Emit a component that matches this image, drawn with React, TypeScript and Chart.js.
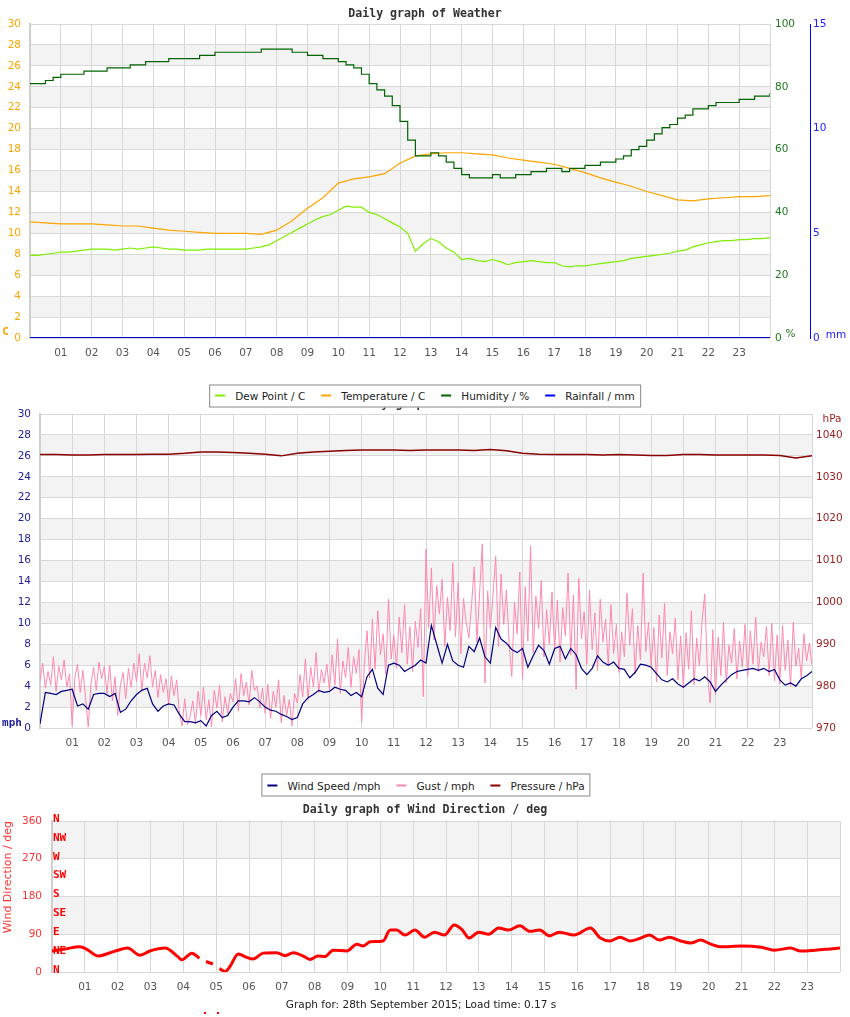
import React, { useEffect, useRef } from 'react';
import { Chart, registerables } from 'chart.js';

Chart.register(...registerables);
Chart.defaults.font.family = '"DejaVu Sans", sans-serif';
Chart.defaults.font.size = 10.5;

// ---------------- DATA ----------------
const hourTicks = ['01','02','03','04','05','06','07','08','09','10','11','12','13','14','15','16','17','18','19','20','21','22','23'];
const compassLabels = ['N','NE','E','SE','S','SW','W','NW','N'];

// Weather (15-minute samples unless noted)
const dewPoint15 = [
  7.9, 7.9, 8.0, 8.1, 8.2, 8.2, 8.3, 8.4, 8.5, 8.5, 8.5, 8.4,
  8.5, 8.6, 8.5, 8.6, 8.7, 8.6, 8.5, 8.5, 8.4, 8.4, 8.4, 8.5,
  8.5, 8.5, 8.5, 8.5, 8.5, 8.6, 8.7, 8.9, 9.3, 9.7, 10.1, 10.5,
  10.9, 11.3, 11.6, 11.8, 12.2, 12.6, 12.5, 12.5, 12.0, 11.8, 11.4, 11.0,
  10.6, 10.0, 8.3, 9.0, 9.5, 9.2, 8.6, 8.2, 7.5, 7.6, 7.4, 7.3,
  7.5, 7.3, 7.0, 7.2, 7.3, 7.4, 7.3, 7.2, 7.2, 6.9, 6.8, 6.9,
  6.9, 7.0, 7.1, 7.2, 7.3, 7.4, 7.6, 7.7, 7.8, 7.9, 8.0, 8.1,
  8.3, 8.4, 8.7, 8.9, 9.1, 9.2, 9.3, 9.3, 9.4, 9.4, 9.5, 9.5, 9.6
];
// half-hour samples
const temperature30 = [
  11.1, 11.0, 10.9, 10.9, 10.9, 10.8, 10.7, 10.7, 10.5, 10.3, 10.2, 10.1,
  10.0, 10.0, 10.0, 9.9, 10.3, 11.2, 12.4, 13.4, 14.8, 15.2, 15.4, 15.7,
  16.7, 17.4, 17.6, 17.7, 17.7, 17.6, 17.5, 17.2, 17.0, 16.8, 16.6, 16.2,
  15.8, 15.3, 14.9, 14.5, 14.0, 13.6, 13.2, 13.1, 13.3, 13.4, 13.5, 13.5, 13.6
];
const humidity15 = [
  81, 81, 82, 83, 84, 84, 84, 85, 85, 85, 86, 86,
  86, 87, 87, 88, 88, 88, 89, 89, 89, 89, 90, 90,
  91, 91, 91, 91, 91, 91, 92, 92, 92, 92, 91, 91,
  90, 90, 89, 89, 88, 87, 86, 84, 81, 79, 77, 74,
  69, 63, 58, 58, 59, 58, 56, 54, 52, 51, 51, 51,
  52, 51, 51, 52, 52, 53, 53, 54, 54, 53, 54, 54,
  55, 55, 56, 56, 57, 58, 60, 61, 63, 65, 67, 68,
  70, 71, 73, 73, 74, 75, 75, 75, 76, 76, 77, 77, 78
];
// hourly samples
const rainfallHourly = [0,0,0,0,0,0,0,0,0,0,0,0,0,0,0,0,0,0,0,0,0,0,0,0,0];

// Wind speed (10-minute samples)
const windSpeed10 = [
  0.4, 3.4, 3.3, 3.2, 3.5, 3.6,
  3.7, 2.1, 2.3, 1.8, 3.2, 3.3,
  3.3, 3.0, 3.3, 1.5, 1.8, 2.6,
  3.2, 3.6, 3.8, 2.3, 1.6, 2.1,
  2.3, 2.2, 1.3, 0.6, 0.6, 0.5,
  0.7, 0.2, 1.2, 1.6, 1.0, 1.2,
  2.0, 2.6, 2.6, 2.5, 2.9, 2.5,
  2.0, 1.7, 1.6, 1.3, 1.1, 0.8,
  1.0, 2.3, 2.9, 3.2, 3.6, 3.4,
  3.5, 3.9, 3.7, 3.6, 3.1, 3.4,
  3.0, 4.9, 5.6, 3.8, 3.2, 6.0,
  6.2, 6.0, 5.4, 5.7, 6.0, 6.5,
  6.2, 9.8, 8.0, 6.2, 8.0, 6.4,
  6.0, 5.8, 7.8, 7.3, 8.6, 6.8,
  6.2, 9.6, 8.5, 8.1, 7.5, 7.2,
  7.6, 5.8, 6.9, 7.9, 7.4, 6.1,
  7.6, 7.8, 6.6, 7.6, 7.0, 5.7,
  5.1, 5.7, 6.9, 6.3, 6.0, 6.3,
  5.7, 5.6, 4.8, 5.3, 6.1, 6.0,
  5.8, 5.2, 4.6, 4.4, 4.7, 4.2,
  3.9, 4.3, 4.7, 4.5, 4.9, 4.4,
  3.5, 4.1, 4.6, 5.1, 5.4, 5.5,
  5.6, 5.7, 5.5, 5.7, 5.4, 5.6,
  4.6, 4.1, 4.3, 4.0, 4.7, 5.0,
  5.4
];
// Gust (5-minute samples)
const gust5 = [
  4.5, 6.2, 3.8, 5.4, 4.1, 6.8, 3.5, 5.9, 4.6, 6.5, 3.9, 5.2,
  0.2, 4.8, 6.1, 3.4, 5.5, 2.9, 0.1, 4.2, 5.8, 3.6, 6.3, 4.7,
  5.9, 3.3, 6.0, 2.6, 4.9, 1.2, 4.1, 5.3, 2.8, 5.7, 3.9, 6.2,
  4.4, 7.1, 3.6, 6.2, 4.8, 6.9, 3.9, 5.5, 2.9, 5.1, 3.4, 4.7,
  2.3, 5.0, 3.1, 4.6, 1.5, 0.2, 2.8, 0.3, 1.1, 2.6, 0.4, 3.5,
  1.2, 3.9, 0.8, 2.7, 0.1, 3.6, 1.9, 4.1, 0.6, 3.0, 1.4, 3.3,
  2.5, 4.7, 1.6, 5.2, 3.1, 4.4, 2.2, 5.5, 3.6, 4.0, 1.9, 3.8,
  1.4, 4.2, 0.9, 3.5, 2.0, 4.6, 0.5, 3.1, 1.2, 2.7, 0.2, 3.3,
  2.4, 5.1, 3.0, 6.6, 2.7, 5.8, 3.9, 7.2, 3.4, 5.6, 4.3, 6.1,
  3.6, 7.0, 4.1, 8.5, 3.3, 6.4, 4.8, 7.7, 3.9, 6.8, 5.2, 7.5,
  0.6, 6.1, 9.3, 4.8, 10.4, 5.6, 11.2, 7.0, 9.0, 5.1, 12.3, 6.6,
  8.9, 5.7, 10.6, 7.2, 11.8, 6.1, 9.7, 5.4, 10.2, 7.7, 11.4, 3.0,
  17.1, 9.6, 15.3, 8.4, 13.6, 10.9, 14.2, 7.8, 12.5, 9.3, 15.8, 8.7,
  13.9, 7.1, 12.4, 10.0, 8.6, 11.8, 15.4, 8.2, 12.9, 17.6, 4.3, 13.1,
  9.5, 12.7, 16.4, 7.8, 14.7, 9.9, 13.2, 8.1, 4.9, 12.0, 9.0, 14.9,
  4.6, 13.5, 8.3, 17.4, 7.2, 12.6, 9.5, 14.1, 6.8, 11.3, 8.0, 13.0,
  7.4, 12.2, 6.3, 11.5, 8.8, 14.8, 7.0, 12.7, 3.7, 14.3, 8.5, 11.1,
  6.1, 13.2, 7.5, 11.0, 5.5, 12.3, 8.2, 10.4, 6.0, 11.8, 7.1, 9.9,
  5.3, 9.2, 6.8, 12.9, 7.9, 11.4, 5.2, 9.8, 6.5, 14.8, 7.3, 10.1,
  5.9, 9.6, 4.4, 10.8, 6.7, 11.9, 5.0, 9.2, 7.1, 10.5, 4.6, 8.8,
  3.9, 9.1, 5.6, 11.2, 4.1, 8.6, 6.0, 10.3, 12.8, 5.2, 2.4, 9.4,
  3.2, 8.7, 5.0, 10.1, 4.3, 7.9, 6.2, 9.5, 4.7, 8.3, 5.8, 9.9,
  4.9, 9.3, 6.1, 10.6, 5.4, 8.2, 6.8, 9.7, 5.0, 10.0, 4.5, 8.9,
  4.2, 9.8, 5.5, 8.4, 4.0, 10.1, 5.9, 7.6, 4.8, 9.0, 6.4, 8.1,
  6.0
];
// Pressure (half-hour samples)
const pressure30 = [
  1035.3, 1035.3, 1035.2, 1035.2, 1035.3, 1035.3, 1035.3, 1035.4, 1035.4, 1035.6,
  1035.9, 1035.9, 1035.8, 1035.6, 1035.4, 1035.0, 1035.6, 1035.9, 1036.1, 1036.3,
  1036.4, 1036.4, 1036.4, 1036.3, 1036.4, 1036.4, 1036.4, 1036.3, 1036.5, 1036.2,
  1035.6, 1035.4, 1035.3, 1035.3, 1035.3, 1035.2, 1035.3, 1035.2, 1035.1, 1035.1,
  1035.3, 1035.3, 1035.2, 1035.2, 1035.2, 1035.2, 1035.1, 1034.5, 1035.0
];

// Wind direction (irregular times, null = gap)
const windDirHours = [
  0, 0.4, 0.85, 1.06, 1.41, 1.77, 2.01, 2.3, 2.68, 2.98, 3.44, 3.84, 3.95, 4.26, 4.49,
  4.6, 4.69, 4.9, 4.98, 5.1, 5.27, 5.42, 5.67, 5.93, 6.12, 6.43, 6.84, 7.1, 7.35, 7.65,
  7.86, 8.1, 8.32, 8.56, 8.98, 9.28, 9.48, 9.69, 10.08, 10.3, 10.5, 10.75, 11.05, 11.35,
  11.65, 11.95, 12.25, 12.5, 12.7, 13.0, 13.3, 13.6, 13.9, 14.25, 14.55, 14.85, 15.15,
  15.45, 15.9, 16.4, 16.7, 17.0, 17.3, 17.6, 17.9, 18.2, 18.5, 18.8, 19.15, 19.45, 19.75,
  20.05, 20.35, 21.0, 21.6, 22.0, 22.5, 22.8, 23.25, 23.7, 24.0
];
const windDirDeg = [
  50, 55, 60, 54, 38, 46, 52, 57, 40, 50, 57, 36, 29, 45, 33,
  null, 25, 19, null, 8, 1, 13, 43, 35, 31, 45, 46, 39, 46, 38,
  30, 38, 37, 52, 50, 66, 62, 72, 74, 100, 100, 88, 100, 83,
  95, 88, 112, 100, 81, 95, 90, 105, 100, 110, 97, 100, 86,
  95, 88, 105, 81, 74, 83, 74, 80, 88, 76, 83, 74, 69, 76,
  67, 60, 62, 59, 52, 57, 50, 52, 55, 57
];
const dirOutlierHours = [4.66, 5.06];
const dirOutlierDeg = [-98, -98];

// ---------------- HELPERS ----------------
const series = (values: (number | null)[], step: number) => values.map((v, i) => ({ x: i * step, y: v }));
const pairs = (xs: number[], ys: (number | null)[]) => xs.map((x, i) => ({ x, y: ys[i] }));
const hourLabel = (v: number) => (v >= 1 && v <= 23 ? hourTicks[v - 1] : '');

const GRID = '#d8d8d8';
const BAND = '#f3f3f3';
const TICK_FONT = { family: '"DejaVu Sans", sans-serif', size: 10.5 };

const bandsPlugin = {
  id: 'bands',
  beforeDraw(chart: any, _args: any, opts: any) {
    const scale = chart.scales[opts.scaleId];
    if (!scale) return;
    const { left, right } = chart.chartArea;
    const ctx = chart.ctx;
    ctx.save();
    ctx.fillStyle = opts.color;
    const ticks = scale.ticks;
    for (let i = 0; i < ticks.length - 1; i++) {
      if (i % 2 === 1) {
        const y1 = scale.getPixelForValue(ticks[i].value);
        const y2 = scale.getPixelForValue(ticks[i + 1].value);
        ctx.fillRect(left, y2, right - left, y1 - y2);
      }
    }
    ctx.restore();
  },
};

// draws isolated out-of-range readings (outside the plot area) through the chart's scales
const outliersPlugin = {
  id: 'outliers',
  afterDatasetsDraw(chart: any, _args: any, opts: any) {
    if (!opts || !opts.hours) return;
    const xs = chart.scales.x;
    const ys = chart.scales.y;
    const ctx = chart.ctx;
    ctx.save();
    ctx.fillStyle = opts.color;
    opts.hours.forEach((h: number, i: number) => {
      const px = xs.getPixelForValue(h);
      const py = ys.getPixelForValue(opts.values[i]);
      ctx.fillRect(Math.round(px) - 1, Math.round(py) - 1, 2, 2);
    });
    ctx.restore();
  },
};

const xAxis = (height: number) => ({
  type: 'linear',
  min: 0,
  max: 24,
  ticks: { stepSize: 1, autoSkip: false, maxRotation: 0, padding: 9, color: '#555', font: TICK_FONT, callback: (v: any) => hourLabel(v) },
  grid: { color: GRID, drawTicks: false },
  border: { display: false },
  afterFit: (s: any) => { s.height = height; },
});

const baseOptions = (paddingTop: number, paddingRight: number) => ({
  animation: false,
  responsive: false,
  devicePixelRatio: 1,
  layout: { padding: { top: paddingTop, left: 0, right: paddingRight, bottom: 0 } },
});

const weatherConfig = () => ({
  type: 'line',
  data: {
    datasets: [
      { label: 'Rainfall / mm', data: series(rainfallHourly, 1), yAxisID: 'yRain', borderColor: '#0000cc', borderWidth: 2, pointRadius: 0 },
      { label: 'Humidity / %', data: series(humidity15, 0.25), yAxisID: 'yHum', borderColor: '#006400', borderWidth: 1.2, pointRadius: 0, stepped: true },
      { label: 'Temperature / C', data: series(temperature30, 0.5), yAxisID: 'y', borderColor: '#ffa500', borderWidth: 1.2, pointRadius: 0 },
      { label: 'Dew Point / C', data: series(dewPoint15, 0.25), yAxisID: 'y', borderColor: '#7fee00', borderWidth: 1.2, pointRadius: 0 },
    ],
  },
  options: {
    ...baseOptions(24, 0),
    plugins: { legend: { display: false }, tooltip: { enabled: false }, bands: { scaleId: 'y', color: BAND } },
    scales: {
      x: xAxis(32),
      y: {
        position: 'left', min: 0, max: 30,
        ticks: { stepSize: 2, padding: 9, color: '#ffa500', font: TICK_FONT },
        grid: { color: GRID, drawTicks: false },
        border: { color: '#cfcfcf', width: 2 },
        afterFit: (s: any) => { s.width = 30; },
      },
      yHum: {
        position: 'right', min: 0, max: 100, weight: 0,
        ticks: { stepSize: 20, padding: 5, color: '#1e7b1e', font: TICK_FONT },
        grid: { display: false, drawTicks: false },
        border: { display: false },
        afterFit: (s: any) => { s.width = 40; },
      },
      yRain: {
        position: 'right', min: 0, max: 15, weight: 1,
        ticks: { stepSize: 5, padding: 3, color: '#2020ff', font: TICK_FONT },
        grid: { display: false, drawTicks: false },
        border: { display: true, color: '#0000ff', width: 1 },
        afterFit: (s: any) => { s.width = 40; },
      },
    },
  },
  plugins: [bandsPlugin],
});

const windConfig = () => ({
  type: 'line',
  data: {
    datasets: [
      { label: 'Wind Speed /mph', data: series(windSpeed10, 1 / 6), yAxisID: 'y', borderColor: '#000080', borderWidth: 1.2, pointRadius: 0 },
      { label: 'Gust / mph', data: series(gust5, 1 / 12), yAxisID: 'y', borderColor: '#ff88b0', borderWidth: 1, pointRadius: 0 },
      { label: 'Pressure / hPa', data: series(pressure30, 0.5), yAxisID: 'yP', borderColor: '#8b0000', borderWidth: 1.5, pointRadius: 0 },
    ],
  },
  options: {
    ...baseOptions(44, 0),
    plugins: { legend: { display: false }, tooltip: { enabled: false }, bands: { scaleId: 'y', color: BAND } },
    scales: {
      x: xAxis(32),
      y: {
        position: 'left', min: 0, max: 30,
        ticks: { stepSize: 2, padding: 9, color: '#22229a', font: TICK_FONT },
        grid: { color: GRID, drawTicks: false },
        border: { color: '#cfcfcf', width: 2 },
        afterFit: (s: any) => { s.width = 40; },
      },
      yP: {
        position: 'right', min: 970, max: 1045,
        ticks: { stepSize: 10, includeBounds: false, padding: 4, color: '#9b1c1c', font: TICK_FONT, callback: (v: any) => (v % 10 === 0 ? v : null) },
        grid: { display: false, drawTicks: false },
        border: { display: false },
        afterFit: (s: any) => { s.width = 38; },
      },
    },
  },
  plugins: [bandsPlugin],
});

const directionConfig = () => ({
  type: 'line',
  data: {
    datasets: [
      { label: 'Wind Direction / deg', data: pairs(windDirHours, windDirDeg), yAxisID: 'y', borderColor: '#ff0000', borderWidth: 3, pointRadius: 0, spanGaps: false, cubicInterpolationMode: 'monotone' },
    ],
  },
  options: {
    ...baseOptions(61, 10),
    plugins: {
      legend: { display: false }, tooltip: { enabled: false },
      bands: { scaleId: 'y', color: BAND },
      outliers: { hours: dirOutlierHours, values: dirOutlierDeg, color: '#ff0000' },
    },
    scales: {
      x: xAxis(45),
      y: {
        position: 'left', min: 0, max: 360, weight: 1,
        ticks: { stepSize: 90, padding: 10, color: '#ff3333', font: TICK_FONT },
        title: { display: true, text: 'Wind Direction / deg', color: '#ff3333', align: 'end', font: { family: '"DejaVu Sans", sans-serif', size: 11 }, padding: { top: 2, bottom: 0 } },
        grid: { color: GRID, drawTicks: false },
        border: { color: '#cfcfcf', width: 2 },
        afterFit: (s: any) => { s.width = 52; },
      },
      yc: {
        position: 'left', min: 0, max: 360, weight: 0,
        ticks: { stepSize: 45, mirror: true, padding: 1, labelOffset: -2, color: '#ff0000', font: { family: '"DejaVu Sans Mono", monospace', size: 11, weight: 'bold' }, callback: (v: any) => compassLabels[Math.round(v / 45)] },
        grid: { display: false, drawTicks: false },
        border: { display: false },
        afterFit: (s: any) => { s.width = 0; },
      },
    },
  },
  plugins: [bandsPlugin, outliersPlugin],
});

// ---------------- COMPONENTS ----------------
function ChartCanvas({ top, height, build }: { top: number; height: number; build: () => any }) {
  const ref = useRef<HTMLCanvasElement>(null);
  useEffect(() => {
    const chart = new Chart(ref.current as HTMLCanvasElement, build() as any);
    return () => chart.destroy();
  }, []);
  return <canvas ref={ref} width={850} height={height} style={{ position: 'absolute', left: 0, top, width: 850, height }} />;
}

const at = (x: number, y: number, extra: React.CSSProperties = {}): React.CSSProperties => ({
  position: 'absolute', left: x, top: y, transform: 'translate(-50%, -50%)', whiteSpace: 'nowrap', lineHeight: '14px', ...extra,
});

const TITLE: React.CSSProperties = { fontFamily: '"DejaVu Sans Mono", monospace', fontWeight: 'bold', fontSize: 11.6, color: '#333' };
const SANS: React.CSSProperties = { fontFamily: '"DejaVu Sans", sans-serif', fontSize: 10.5 };

function Legend({ x, y, items }: { x: number; y: number; items: { label: string; color: string }[] }) {
  return (
    <div style={at(x, y, { ...SANS, color: '#222', background: '#fff', border: '1px solid #888', padding: '0 5px', height: 21, display: 'flex', alignItems: 'center' })}>
      {items.map((it, i) => (
        <span key={it.label} style={{ display: 'flex', alignItems: 'center', marginRight: i < items.length - 1 ? 16 : 0 }}>
          <span style={{ display: 'inline-block', width: 10, height: 2, background: it.color, marginRight: 10 }} />
          {it.label}
        </span>
      ))}
    </div>
  );
}

export default function App() {
  return (
    <div style={{ position: 'absolute', left: 0, top: 0, width: 850, height: 1017, background: '#fff', overflow: 'hidden' }}>
      <ChartCanvas top={0} height={370} build={weatherConfig} />
      <ChartCanvas top={370} height={390} build={windConfig} />
      <ChartCanvas top={760} height={257} build={directionConfig} />

      <div style={at(425, 13, TITLE)}>Daily graph of Weather</div>
      <div style={at(5.5, 332, { ...TITLE, color: '#ffa500', fontSize: 11 })}>C</div>
      <div style={at(790.5, 333, { ...SANS, color: '#1e7b1e' })}>%</div>
      <div style={at(836, 334, { ...SANS, color: '#2020ff' })}>mm</div>

      <div style={at(420, 403, TITLE)}>Daily graph of Wind</div>
      <Legend x={425} y={395.5} items={[
        { label: 'Dew Point / C', color: '#7fee00' },
        { label: 'Temperature / C', color: '#ffa500' },
        { label: 'Humidity / %', color: '#006400' },
        { label: 'Rainfall / mm', color: '#0000ff' },
      ]} />
      <div style={at(12, 723, { ...TITLE, color: '#22229a', fontSize: 11 })}>mph</div>
      <div style={at(832, 418, { ...SANS, color: '#9b1c1c' })}>hPa</div>

      <Legend x={426} y={785} items={[
        { label: 'Wind Speed /mph', color: '#000080' },
        { label: 'Gust / mph', color: '#ff88b0' },
        { label: 'Pressure / hPa', color: '#8b0000' },
      ]} />
      <div style={at(425, 809, TITLE)}>Daily graph of Wind Direction / deg</div>
      <div style={at(421, 1004, { ...SANS, color: '#222' })}>Graph for: 28th September 2015; Load time: 0.17 s</div>
    </div>
  );
}
